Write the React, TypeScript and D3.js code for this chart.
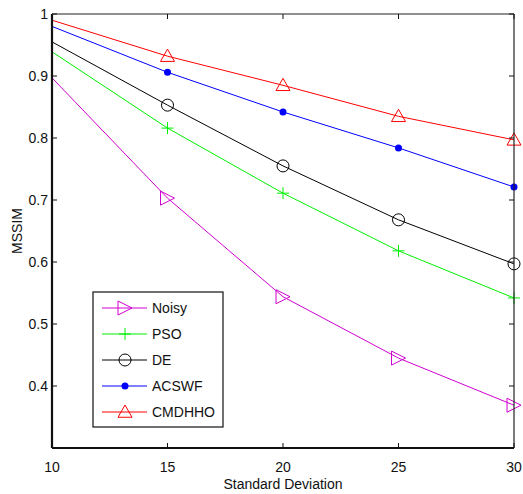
import React from "react";
import * as d3 from "d3";

const xValues = [10, 15, 20, 25, 30];
const noisy = [0.897, 0.703, 0.544, 0.445, 0.369];
const pso = [0.939, 0.816, 0.711, 0.618, 0.542];
const de = [0.955, 0.853, 0.755, 0.668, 0.597];
const acswf = [0.98, 0.906, 0.842, 0.784, 0.721];
const cmdhho = [0.99, 0.932, 0.885, 0.835, 0.797];
const xTicks = [10, 15, 20, 25, 30];
const yTicks = [0.4, 0.5, 0.6, 0.7, 0.8, 0.9, 1];
const seriesNames = ["Noisy", "PSO", "DE", "ACSWF", "CMDHHO"];
const seriesColors = ["#d000d0", "#00ee00", "#000000", "#0000ff", "#ff0000"];
const seriesMarkers = ["tri-right", "plus", "circle", "dot", "tri-up"];
const seriesData = [noisy, pso, de, acswf, cmdhho];

const W = 523, H = 494;
const L = 52, R = 514, T = 14, B = 448;

function Marker({ type, x, y, color }: { type: string; x: number; y: number; color: string }) {
  if (type === "tri-right") {
    const s = 7;
    return <path d={`M${x - s},${y - s}L${x + s},${y}L${x - s},${y + s}Z`} fill="none" stroke={color} strokeWidth={1} />;
  }
  if (type === "tri-up") {
    const s = 7;
    return <path d={`M${x},${y - s}L${x + s},${y + s * 0.75}L${x - s},${y + s * 0.75}Z`} fill="none" stroke={color} strokeWidth={1} />;
  }
  if (type === "plus") {
    const s = 6;
    return <path d={`M${x - s},${y}L${x + s},${y}M${x},${y - s}L${x},${y + s}`} stroke={color} strokeWidth={1} />;
  }
  if (type === "circle") {
    return <circle cx={x} cy={y} r={6} fill="none" stroke={color} strokeWidth={1} />;
  }
  return <circle cx={x} cy={y} r={3.5} fill={color} />;
}

export default function App() {
  const x = d3.scaleLinear().domain([10, 30]).range([L, R]);
  const y = d3.scaleLinear().domain([0.3, 1]).range([B, T]);
  const line = d3.line<number>().x((_, i) => x(xValues[i])).y((d) => y(d));
  const font = "Liberation Sans, Arial, sans-serif";

  const legX = 93, legY = 292, legW = 130, legH = 135;
  const legRowY = (i: number) => legY + 16 + i * 26;

  return (
    <svg width={W} height={H} style={{ position: "absolute", left: 0, top: 0, background: "#fff" }} fontFamily={font}>
      <rect x={0} y={0} width={W} height={H} fill="#fff" />
      {seriesData.map((s, k) => (
        <g key={k}>
          <path d={line(s) || ""} fill="none" stroke={seriesColors[k]} strokeWidth={1} />
          {s.map((v, i) => (i === 0 ? null : (
            <Marker key={i} type={seriesMarkers[k]} x={x(xValues[i])} y={y(v)} color={seriesColors[k]} />
          )))}
        </g>
      ))}
      {/* frame */}
      <line x1={L} y1={T} x2={R} y2={T} stroke="#222" strokeWidth={1.2} />
      <line x1={R} y1={T} x2={R} y2={B} stroke="#222" strokeWidth={1.2} />
      <line x1={L} y1={T} x2={L} y2={B} stroke="#111" strokeWidth={2.2} />
      <line x1={L} y1={B} x2={R} y2={B} stroke="#111" strokeWidth={2.2} />
      {/* y ticks */}
      {yTicks.map((t) => (
        <g key={t}>
          <line x1={L} x2={L + 5} y1={y(t)} y2={y(t)} stroke="#111" strokeWidth={1} />
          <line x1={R} x2={R - 5} y1={y(t)} y2={y(t)} stroke="#111" strokeWidth={1} />
          <text x={L - 4} y={y(t)} dy="0.35em" textAnchor="end" fontSize={14} fill="#111">{t === 1 ? "1" : String(t)}</text>
        </g>
      ))}
      {/* x ticks */}
      {xTicks.map((t) => (
        <g key={t}>
          <line x1={x(t)} x2={x(t)} y1={B} y2={B - 5} stroke="#111" strokeWidth={1} />
          <line x1={x(t)} x2={x(t)} y1={T} y2={T + 5} stroke="#111" strokeWidth={1} />
          <text x={x(t)} y={B + 24} textAnchor="middle" fontSize={14} fill="#111">{t}</text>
        </g>
      ))}
      <text x={(L + R) / 2} y={489} textAnchor="middle" fontSize={14} fill="#111">Standard Deviation</text>
      <text transform={`translate(22,${(T + B) / 2}) rotate(-90)`} textAnchor="middle" fontSize={14} fill="#111">MSSIM</text>
      {/* legend */}
      <rect x={legX} y={legY} width={legW} height={legH} fill="#fff" stroke="#111" strokeWidth={1.2} />
      {seriesNames.map((n, i) => (
        <g key={n}>
          <line x1={102} x2={147} y1={legRowY(i)} y2={legRowY(i)} stroke={seriesColors[i]} strokeWidth={1} />
          <Marker type={seriesMarkers[i]} x={125} y={legRowY(i)} color={seriesColors[i]} />
          <text x={152} y={legRowY(i)} dy="0.35em" fontSize={14} fill="#111">{n}</text>
        </g>
      ))}
    </svg>
  );
}
